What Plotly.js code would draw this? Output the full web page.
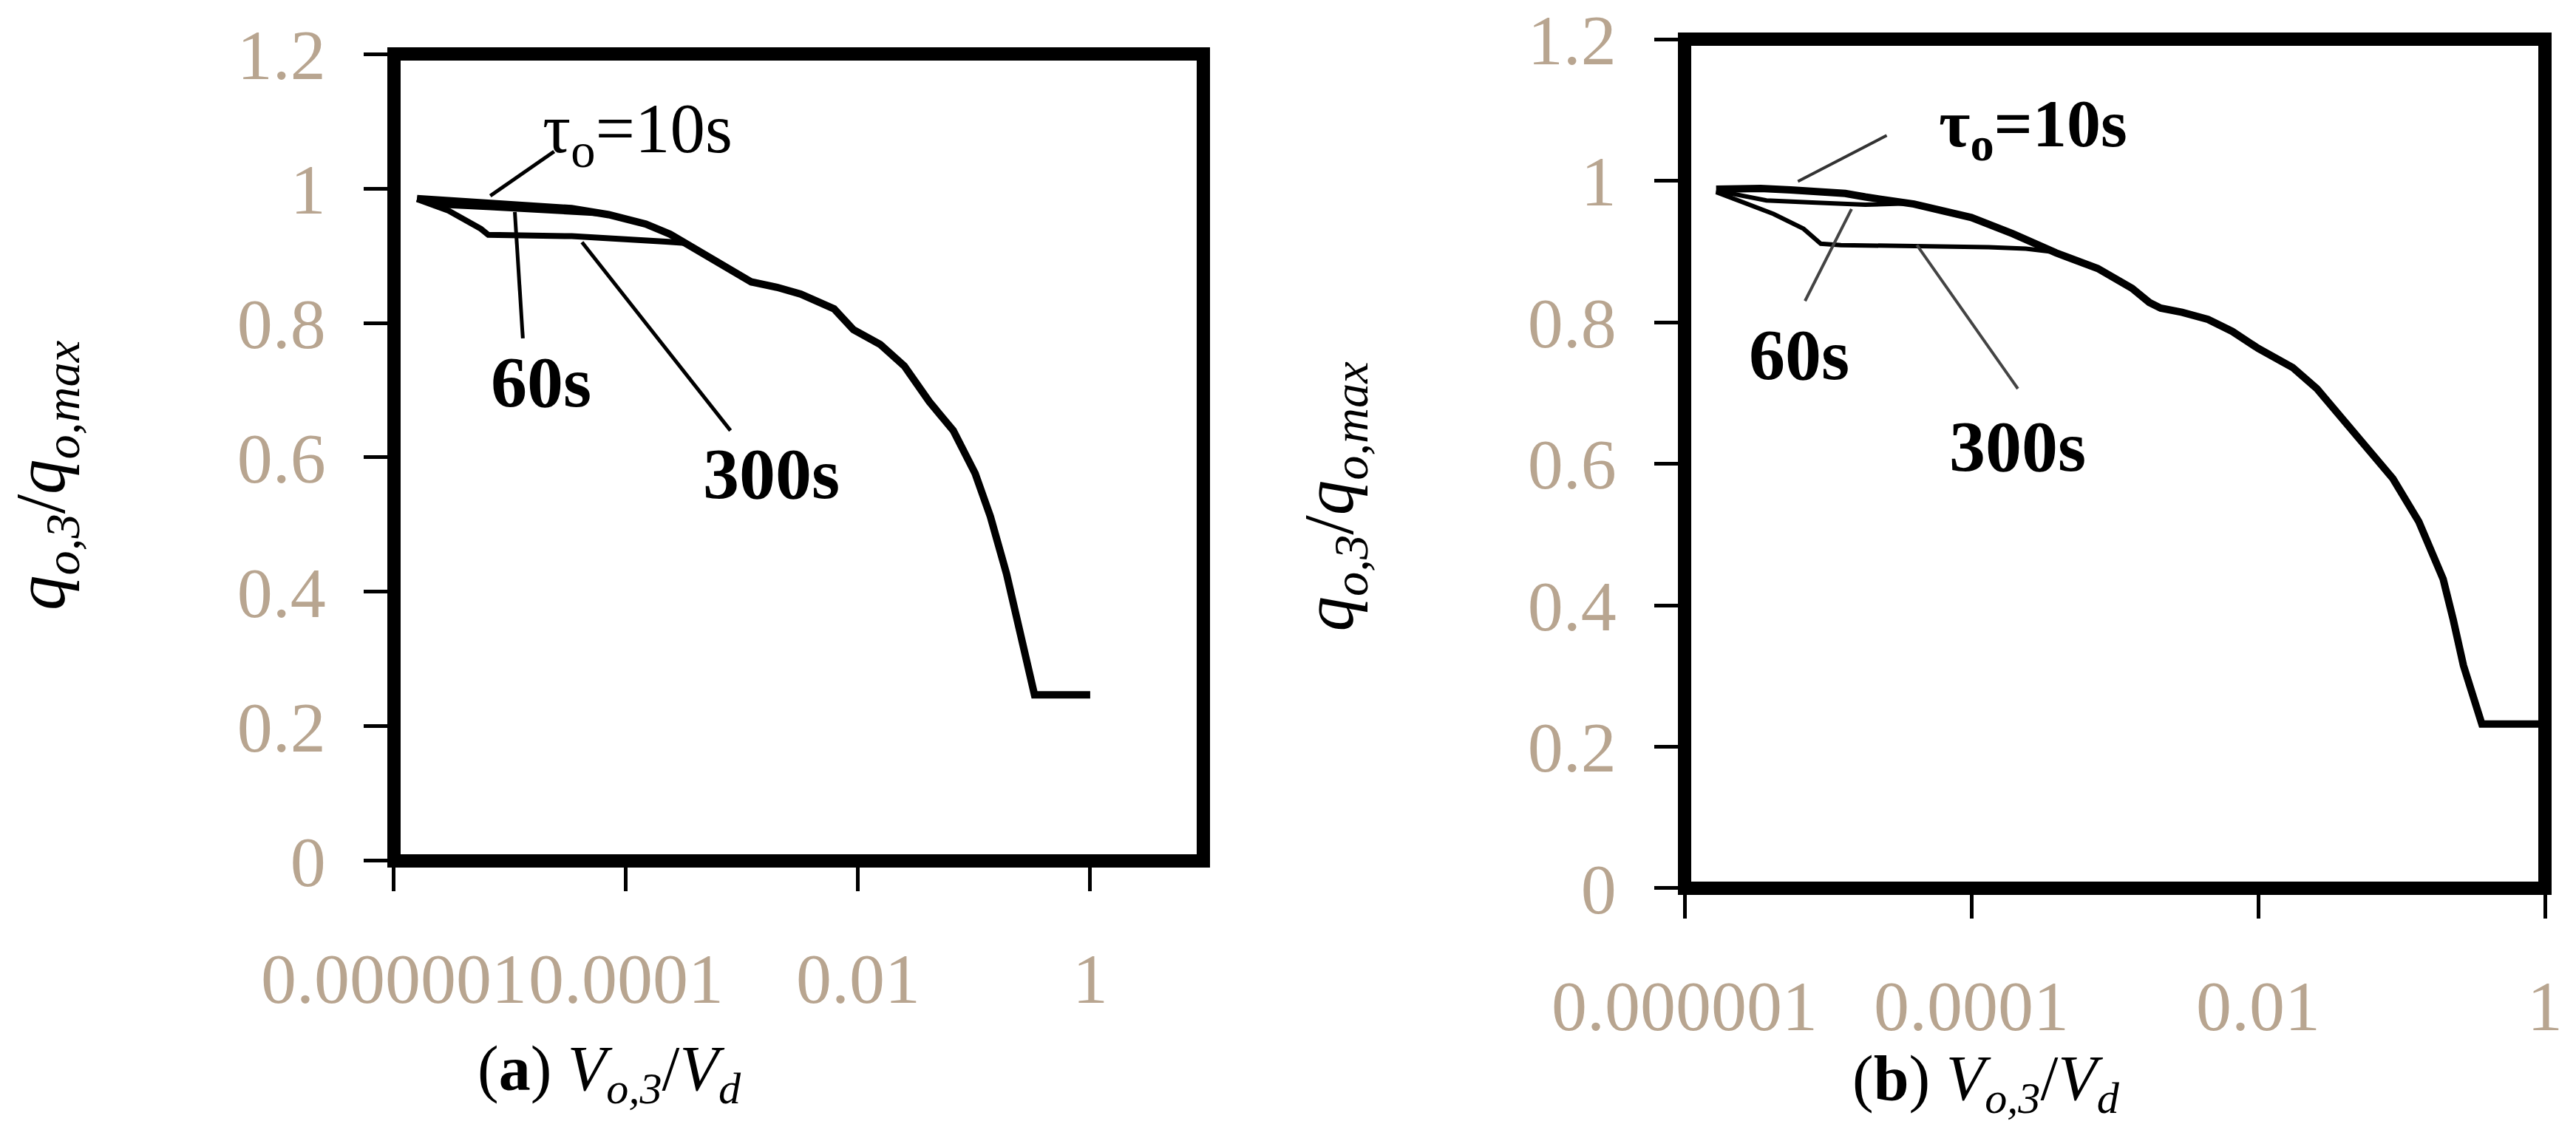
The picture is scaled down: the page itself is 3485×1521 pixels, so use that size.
<!DOCTYPE html>
<html>
<head>
<meta charset="utf-8">
<script src="https://cdn.plot.ly/plotly-3.0.1.min.js"></script>
<style>
  html, body { margin: 0; padding: 0; background: #fff; }
  #chart { width: 3485px; height: 1521px; }
</style>
</head>
<body>
<div id="chart"></div>
<script>
// ---- data ----
// panel (a)
var a10x = [1.58e-6, 2.95e-6, 6.76e-6, 1.62e-5, 3.39e-5, 7.08e-5, 1.48e-4, 2.40e-4, 3.89e-4, 6.76e-4,
            1.20e-3, 2.0e-3, 3.2e-3, 6.2e-3, 9.1e-3, 1.55e-2, 2.5e-2, 4.1e-2, 6.6e-2, 0.102,
            0.138, 0.19, 0.245, 0.331, 1];
var a10y = [0.985, 0.982, 0.980, 0.976, 0.970, 0.961, 0.947, 0.932, 0.910, 0.884,
            0.861, 0.853, 0.843, 0.821, 0.790, 0.768, 0.736, 0.683, 0.640, 0.576,
            0.512, 0.427, 0.341, 0.247, 0.247];
var a60x = [1.58e-6, 3.0e-6, 6.8e-6, 1.6e-5, 3.2e-5, 6.0e-5];
var a60y = [0.985, 0.975, 0.972, 0.969, 0.966, 0.963];
var a300x = [1.58e-6, 2.95e-6, 5.6e-6, 6.5e-6, 3.4e-5, 1.48e-4, 2.2e-4, 3.2e-4];
var a300y = [0.984, 0.967, 0.940, 0.931, 0.929, 0.924, 0.921, 0.919];

// panel (b)
var b10x = [1.66e-6, 3.39e-6, 5.5e-6, 1.32e-5, 1.82e-5, 3.39e-5, 3.98e-5, 1.0e-4, 1.95e-4, 3.89e-4,
            7.6e-4, 1.32e-3, 1.74e-3, 2.09e-3, 2.95e-3, 4.47e-3, 6.6e-3, 1.0e-2, 1.74e-2, 2.57e-2,
            4.47e-2, 6.6e-2, 8.7e-2, 0.132, 0.195, 0.229, 0.27, 0.363, 1];
var b10y = [0.988, 0.989, 0.987, 0.982, 0.977, 0.970, 0.967, 0.948, 0.925, 0.898,
            0.876, 0.848, 0.828, 0.820, 0.814, 0.804, 0.787, 0.763, 0.736, 0.706,
            0.650, 0.609, 0.579, 0.518, 0.437, 0.380, 0.315, 0.232, 0.232];
var b60x = [1.66e-6, 3.72e-6, 8.3e-6, 1.82e-5, 3.6e-5];
var b60y = [0.986, 0.972, 0.969, 0.966, 0.968];
var b300x = [1.66e-6, 4.17e-6, 6.76e-6, 8.9e-6, 1.23e-5, 3.98e-5, 1.32e-4, 2.4e-4, 3.5e-4];
var b300y = [0.984, 0.953, 0.932, 0.911, 0.909, 0.908, 0.906, 0.904, 0.900];

// leader lines from curve to label  [x0, x1], [y0, y1]
var aLead10x = [6.76e-6, 2.4e-5],  aLead10y = [0.989, 1.055];
var aLead60x = [1.1e-5, 1.29e-5],  aLead60y = [0.965, 0.777];
var aLead300x = [4.17e-5, 7.94e-4], aLead300y = [0.920, 0.640];
var bLead10x = [6.17e-6, 2.57e-5], bLead10y = [0.999, 1.064];
var bLead60x = [1.46e-5, 6.92e-6], bLead60y = [0.960, 0.830];
var bLead300x = [4.17e-5, 2.11e-4], bLead300y = [0.909, 0.706];

// ticks
var xTickVals = [1e-6, 1e-4, 1e-2, 1];
var xTickText = ['0.000001', '0.0001', '0.01', '1'];
var yTickVals = [0, 0.2, 0.4, 0.6, 0.8, 1, 1.2];
var yTickText = ['0', '0.2', '0.4', '0.6', '0.8', '1', '1.2'];

var serif = 'Liberation Serif, Times New Roman, serif';
var tickColor = '#b8a590';

function line(x, y, xa, ya, w, c) {
  return {x: x, y: y, xaxis: xa, yaxis: ya, type: 'scatter', mode: 'lines',
          line: {color: c || '#000', width: w}, hoverinfo: 'skip'};
}

var data = [
  line(a300x, a300y, 'x', 'y', 8),
  line(a60x, a60y, 'x', 'y', 8),
  line(a10x, a10y, 'x', 'y', 10),
  line(aLead10x, aLead10y, 'x', 'y', 5),
  line(aLead60x, aLead60y, 'x', 'y', 5),
  line(aLead300x, aLead300y, 'x', 'y', 5),
  line(b300x, b300y, 'x2', 'y2', 6),
  line(b60x, b60y, 'x2', 'y2', 6),
  line(b10x, b10y, 'x2', 'y2', 10),
  line(bLead10x, bLead10y, 'x2', 'y2', 4, '#333'),
  line(bLead60x, bLead60y, 'x2', 'y2', 4, '#444'),
  line(bLead300x, bLead300y, 'x2', 'y2', 4, '#444')
];

function xAxis(domain, range, anchor) {
  return {
    type: 'log', domain: domain, range: range, anchor: anchor,
    tickvals: xTickVals, ticktext: xTickText, tickangle: 0,
    ticks: 'outside', ticklen: 40, tickwidth: 5, tickcolor: '#000',
    ticklabelstandoff: 36,
    tickfont: {family: serif, size: 96, color: tickColor},
    showgrid: false, zeroline: false, showline: false
  };
}
function yAxis(domain, anchor) {
  return {
    domain: domain, range: [0, 1.2], anchor: anchor,
    tickvals: yTickVals, ticktext: yTickText,
    ticks: 'outside', ticklen: 40, tickwidth: 5, tickcolor: '#000',
    ticklabelstandoff: 32,
    tickfont: {family: serif, size: 96, color: tickColor},
    showgrid: false, zeroline: false, showline: false
  };
}

function frame(xr, yr) {
  return {type: 'rect', xref: xr + ' domain', yref: yr + ' domain', x0: 0, x1: 1, y0: 0, y1: 1,
          line: {color: '#000', width: 18}, layer: 'above'};
}

function label(text, xr, yr, x, y, size) {
  return {text: text, xref: xr, yref: yr, x: x, y: y, showarrow: false,
          xanchor: 'center', yanchor: 'middle',
          font: {family: serif, size: size, color: '#000'}};
}

var yTitle = '<i>q</i><sub><i>o,3</i></sub>/<i>q</i><sub><i>o,max</i></sub>';

var layout = {
  width: 3485, height: 1521,
  margin: {l: 0, r: 0, t: 0, b: 0},
  paper_bgcolor: '#fff', plot_bgcolor: '#fff',
  showlegend: false,
  xaxis: xAxis([0.15294, 0.46714], [-6, 0.975], 'y'),
  yaxis: yAxis([0.23406, 0.95200], 'x'),
  xaxis2: xAxis([0.65395, 0.98795], [-6, 0], 'y2'),
  yaxis2: yAxis([0.20973, 0.96515], 'x2'),
  shapes: [frame('x', 'y'), frame('x2', 'y2')],
  annotations: [
    label('\u03c4<sub>o</sub>=10s', 'x', 'y', -3.90, 1.082, 95),
    label('<b>60s</b>', 'x', 'y', -4.73, 0.712, 98),
    label('<b>300s</b>', 'x', 'y', -2.75, 0.576, 98),
    label('<b>\u03c4<sub>o</sub>=10s</b>', 'x2', 'y2', -3.57, 1.074, 92),
    label('<b>60s</b>', 'x2', 'y2', -5.20, 0.754, 98),
    label('<b>300s</b>', 'x2', 'y2', -3.68, 0.625, 98),
    Object.assign(label(yTitle, 'paper', 'paper', 0.0178, 0.5773, 95), {textangle: -90}),
    Object.assign(label(yTitle, 'paper', 'paper', 0.5179, 0.5585, 95), {textangle: -90}),
    label('(<b>a</b>) <i>V</i><sub><i>o,3</i></sub>/<i>V</i><sub><i>d</i></sub>', 'paper', 'paper', 0.2367, 0.0454, 86),
    label('(<b>b</b>) <i>V</i><sub><i>o,3</i></sub>/<i>V</i><sub><i>d</i></sub>', 'paper', 'paper', 0.7710, 0.0368, 86)
  ]
};

Plotly.newPlot('chart', data, layout, {displayModeBar: false});
</script>
</body>
</html>
